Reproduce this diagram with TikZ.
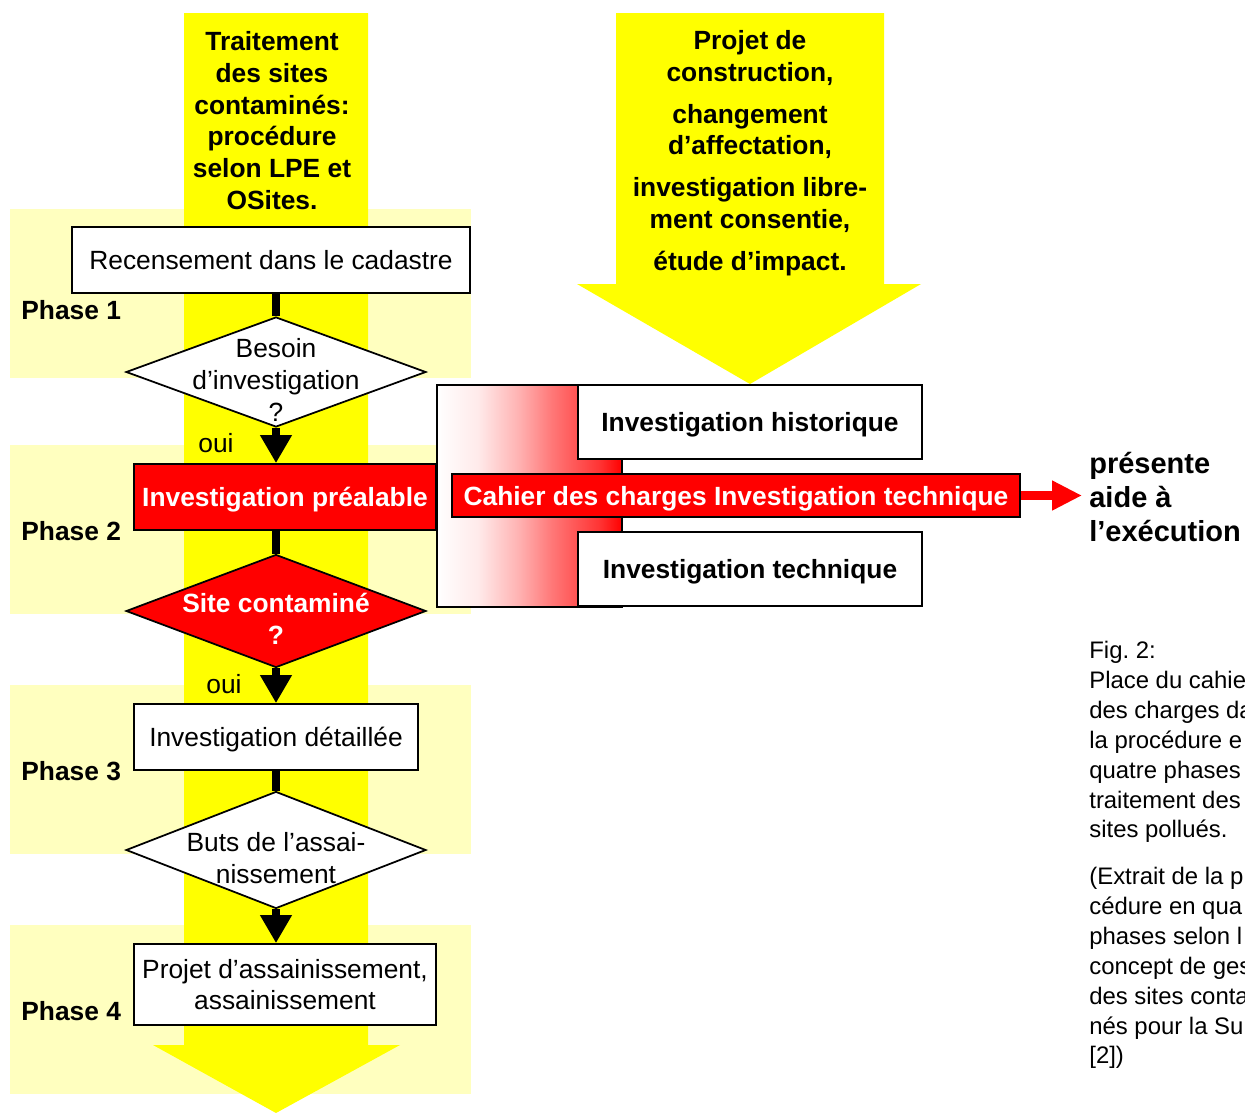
\documentclass[tikz,border=0pt]{standalone}
\usepackage{fontspec}
\setmainfont{Liberation Sans}
\usetikzlibrary{shapes.geometric,arrows.meta}
\definecolor{vyellow}{HTML}{FFFF00}
\definecolor{vpale}{HTML}{FFFFBF}
\definecolor{vred}{HTML}{FF0000}
\frenchspacing
\pgfdeclarehorizontalshading{cahierfade}{100bp}{color(0bp)=(white); color(25bp)=(white); color(36bp)=(vred!8); color(47bp)=(vred!30); color(56bp)=(vred!53); color(69bp)=(vred!80); color(75bp)=(vred); color(100bp)=(vred)}
\tikzset{
	stepbox/.style={draw=black, line width=1pt, fill=white, inner sep=0pt, text depth=0pt, minimum height=1.32cm, font=\fontsize{15}{18.1}\selectfont},
	redbox/.style={stepbox, fill=vred, text=white, font=\bfseries\fontsize{15}{18.1}\selectfont},
	query/.style={diamond, draw=black, line width=1pt, fill=white, inner sep=0pt, minimum width=6cm},
	querytext/.style={align=center, yshift=-0.16cm, inner sep=0pt, font=\fontsize{15}{18.1}\selectfont},
	flow/.style={line width=4.5pt, draw=black},
	bigtip/.style={-{Triangle[width=0.6cm,length=0.56cm]}},
	phase/.style={anchor=west, inner sep=0pt, font=\bfseries\fontsize{15}{18.1}\selectfont},
	plain/.style={inner sep=0pt, font=\fontsize{15}{18.1}\selectfont}
}

\begin{document}
\begin{tikzpicture}[x=0.02cm, y=-0.02cm]
	\useasboundingbox (0,0) rectangle (1245,1113);
	\foreach \ph in {209,445,685,925}
		\fill[vpale] (10,\ph) rectangle (471,\ph+169);
	\fill[vyellow] (184,13) -- (368,13) -- (368,1045) -- (400,1045) -- (276,1113) -- (153,1045) -- (184,1045) -- cycle;
	\fill[vyellow] (616,13) -- (884,13) -- (884,284) -- (921,284) -- (750,384) -- (577,284) -- (616,284) -- cycle;

	\node[align=center, inner sep=0pt, font=\bfseries\fontsize{15}{18.1}\selectfont] (procedure) at (272,120.5) {Traitement\\des sites\\contaminés:\\procédure\\selon LPE et\\OSites.};
	\node[align=center, inner sep=0pt, font=\bfseries\fontsize{15}{18.1}\selectfont] (motifs) at (750,153) {Projet de\\construction,\\[5.7pt]changement\\d’affectation,\\[5.7pt]investigation libre-\\ment consentie,\\[5.7pt]étude d’impact.};

	\node[stepbox, minimum width=7.96cm] (cadastre) at (271,260) {Recensement dans le cadastre};
	\node[query, minimum height=2.2cm, label={[querytext]center:{Besoin\\d’investigation\\?}}] (besoin) at (276,372) {};
	\node[draw=black, line width=1pt, shade, shading=cahierfade, inner sep=0pt, minimum width=3.7cm, minimum height=4.44cm] (fond) at (529.5,496) {};
	\node[redbox, minimum width=6.04cm] (prealable) at (285,497) {Investigation préalable};
	\node[query, fill=vred, minimum height=2.26cm, label={[querytext, text=white, font=\bfseries\fontsize{15}{18.1}\selectfont]center:{Site contaminé\\?}}] (site) at (276,611) {};
	\node[stepbox, minimum width=5.68cm] (detail) at (276,737) {Investigation détaillée};
	\node[query, minimum height=2.34cm, label={[querytext]center:{Buts de l’assai-\\nissement}}] (buts) at (276,850) {};
	\node[stepbox, align=center, minimum width=6.04cm, minimum height=1.62cm] (projet) at (285,984.5) {Projet d’assainissement,\\assainissement};

	\draw[flow] (cadastre.south -| besoin.north) -- (besoin.north);
	\draw[flow, bigtip] (besoin.south) -- (besoin.south |- prealable.north);
	\draw[flow] (site.north |- prealable.south) -- (site.north);
	\draw[flow, bigtip] (site.south) -- (site.south |- detail.north);
	\draw[flow] (detail.south) -- (buts.north);
	\draw[flow, bigtip] (buts.south) -- (buts.south |- projet.north);

	\node[phase] (phaseA) at (21,310) {Phase 1};
	\node[phase] (phaseB) at (21,531) {Phase 2};
	\node[phase] (phaseC) at (21,771) {Phase 3};
	\node[phase] (phaseD) at (21,1011) {Phase 4};
	\node[plain] (ouiA) at (216,443) {oui};
	\node[plain] (ouiB) at (224,684) {oui};

	\node[stepbox, font=\bfseries\fontsize{15}{18.1}\selectfont, minimum width=6.88cm, minimum height=1.48cm] (historique) at (750,422) {Investigation historique};
	\node[stepbox, font=\bfseries\fontsize{15}{18.1}\selectfont, minimum width=6.88cm, minimum height=1.48cm] (technique) at (750,569) {Investigation technique};
	\node[redbox, minimum width=11.36cm, minimum height=0.86cm] (cahier) at (736,495.5) {Cahier des charges Investigation technique};
	\coordinate (aide) at (1082,495.5);
	\draw[vred, line width=5.5pt, -{Triangle[width=0.56cm,length=0.6cm]}] (cahier.east) -- (aide);
	\node[anchor=west, align=left, inner sep=0pt, font=\bfseries\fontsize{16.5}{19.6}\selectfont] (aidetexte) at (1089,497) {présente\\aide à\\l’exécution};

	\begin{scope}
		\clip (0,0) rectangle (1245,1113);
		\node[anchor=north west, align=left, inner sep=0pt, font=\fontsize{13.6}{17}\selectfont] (legende) at (1089,641) {Fig. 2:\\Place du cahie\\des charges da\\la procédure e\\quatre phases\\traitement des\\sites pollués.};
		\node[anchor=north west, align=left, inner sep=0pt, font=\fontsize{13.6}{17}\selectfont] (source) at (1089,867) {(Extrait de la p\\cédure en qua\\phases selon l\\concept de ges\\des sites conta\\nés pour la Su\\{[2])}};
	\end{scope}
\end{tikzpicture}
\end{document}
